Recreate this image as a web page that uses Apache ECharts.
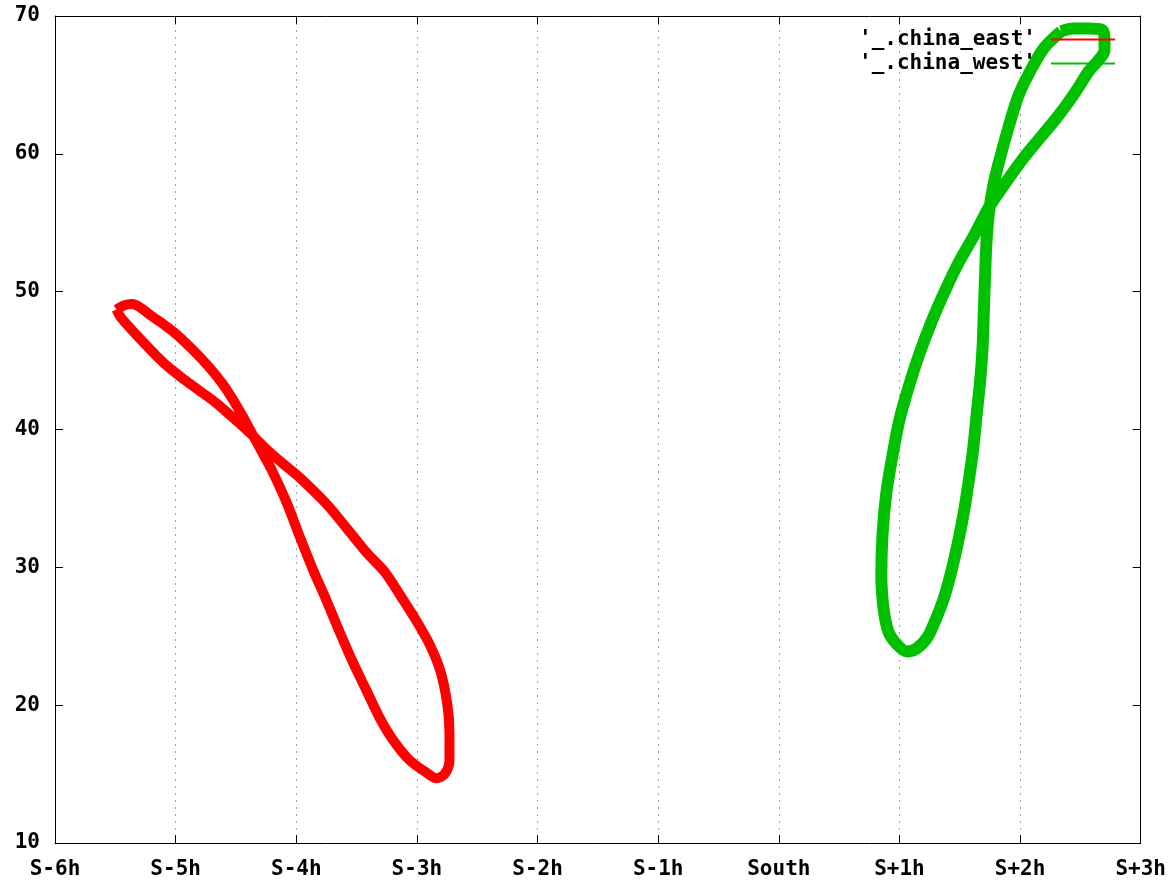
<!DOCTYPE html>
<html>
<head>
<meta charset="utf-8">
<script src="https://cdn.jsdelivr.net/npm/echarts@6/dist/echarts.min.js"></script>
<style>
html,body{margin:0;padding:0;background:#fff;}
#chart{width:1169px;height:881px;}
</style>
</head>
<body>
<div id="chart"></div>
<script>
// Hour offsets from solar south (x) and altitude in degrees (y)
const xTickLabels = ['S-6h','S-5h','S-4h','S-3h','S-2h','S-1h','South','S+1h','S+2h','S+3h'];
const yTicks = [10, 20, 30, 40, 50, 60, 70];
const seriesNames = ["'_.china_east'", "'_.china_west'"];

const chinaEast = [
  [-5.49,48.7],[-5.43,49.0],[-5.36,49.1],[-5.21,48.3],[-5.02,47.1],[-4.86,45.8],
  [-4.72,44.5],[-4.61,43.3],[-4.52,42.1],[-4.44,40.9],[-4.36,39.6],[-4.28,38.3],
  [-4.20,37.0],[-4.08,34.7],[-3.97,32.2],[-3.86,29.8],[-3.75,27.6],[-3.64,25.3],
  [-3.53,23.1],[-3.42,21.1],[-3.31,19.1],[-3.20,17.5],[-3.06,16.0],[-2.92,15.1],
  [-2.84,14.7],[-2.77,15.0],[-2.73,16.0],[-2.73,18.0],[-2.75,20.2],[-2.81,22.6],
  [-2.90,24.5],[-3.01,26.2],[-3.14,28.0],[-3.27,29.7],[-3.41,31.0],[-3.56,32.6],
  [-3.75,34.6],[-3.97,36.5],[-4.12,37.6],[-4.25,38.6],[-4.39,39.8],[-4.53,40.9],
  [-4.66,41.9],[-4.80,42.8],[-4.94,43.7],[-5.07,44.6],[-5.21,45.8],[-5.35,47.1],
  [-5.46,48.2],[-5.49,48.7]
];

const chinaWest = [
  [2.34,68.9],[2.44,69.1],[2.57,69.1],[2.68,69.0],[2.70,68.4],[2.70,67.5],
  [2.65,66.8],[2.57,66.0],[2.46,64.5],[2.32,62.8],[2.17,61.2],[2.02,59.6],
  [1.88,57.9],[1.74,56.1],[1.62,54.1],[1.49,52.1],[1.38,50.1],[1.27,47.9],
  [1.17,45.6],[1.08,43.2],[1.00,40.7],[0.94,38.0],[0.89,35.3],[0.86,32.4],
  [0.85,29.4],[0.87,26.9],[0.91,25.3],[0.98,24.4],[1.06,23.9],[1.14,24.1],
  [1.23,24.9],[1.30,26.2],[1.37,27.8],[1.43,29.7],[1.48,31.6],[1.53,33.8],
  [1.57,36.0],[1.61,38.5],[1.64,41.1],[1.67,43.6],[1.69,46.1],[1.70,48.7],
  [1.71,51.2],[1.72,53.4],[1.74,55.6],[1.78,57.8],[1.84,59.9],[1.91,62.1],
  [1.99,64.3],[2.09,66.1],[2.20,67.7],[2.34,68.9]
];

const FONT = 'DejaVu Sans Mono';
const chart = echarts.init(document.getElementById('chart'), null, {renderer:'canvas'});

const xCommon = {
  type:'value', min:-6, max:3, interval:1,
  axisLine:{show:true, onZero:false, lineStyle:{color:'#000', width:1}},
  axisTick:{show:true, inside:true, length:8, lineStyle:{color:'#000'}},
};
const yCommon = {
  type:'value', min:yTicks[0], max:yTicks[yTicks.length-1], interval:10,
  axisLine:{show:true, onZero:false, lineStyle:{color:'#000', width:1}},
  axisTick:{show:true, inside:true, length:8, lineStyle:{color:'#000'}},
  splitLine:{show:false}
};

chart.setOption({
  animation:false,
  backgroundColor:'#fff',
  grid:{left:55, right:27, top:16, bottom:38, containLabel:false},
  legend:{
    orient:'vertical', right:49, top:24, align:'right',
    icon:'rect', itemWidth:64, itemHeight:2, itemGap:3,
    textStyle:{fontFamily:FONT, fontWeight:'bold', fontSize:21, color:'#000', padding:[0,10,0,0]},
    data:seriesNames
  },
  xAxis:[
    Object.assign({}, xCommon, {
      position:'bottom',
      axisLabel:{show:true, margin:16, color:'#000', fontFamily:FONT, fontWeight:'bold', fontSize:21,
        formatter:function(v){ return xTickLabels[Math.round(v+6)]; }},
      splitLine:{show:true, lineStyle:{color:'#a0a0a0', width:1, type:[2,5]}}
    }),
    Object.assign({}, xCommon, {position:'top', axisLabel:{show:false}, splitLine:{show:false}})
  ],
  yAxis:[
    Object.assign({}, yCommon, {
      position:'left',
      axisLabel:{show:true, margin:15, color:'#000', fontFamily:FONT, fontWeight:'bold', fontSize:21}
    }),
    Object.assign({}, yCommon, {position:'right', axisLabel:{show:false}})
  ],
  series:[
    {
      name:seriesNames[0], type:'line', data:chinaEast, smooth:0.3, symbol:'none',
      lineStyle:{color:'#ff0000', width:10}, itemStyle:{color:'#ff0000'}
    },
    {
      name:seriesNames[1], type:'line', data:chinaWest, smooth:0.3, symbol:'none',
      lineStyle:{color:'#00c000', width:12}, itemStyle:{color:'#00c000'}
    }
  ]
});
</script>
</body>
</html>
